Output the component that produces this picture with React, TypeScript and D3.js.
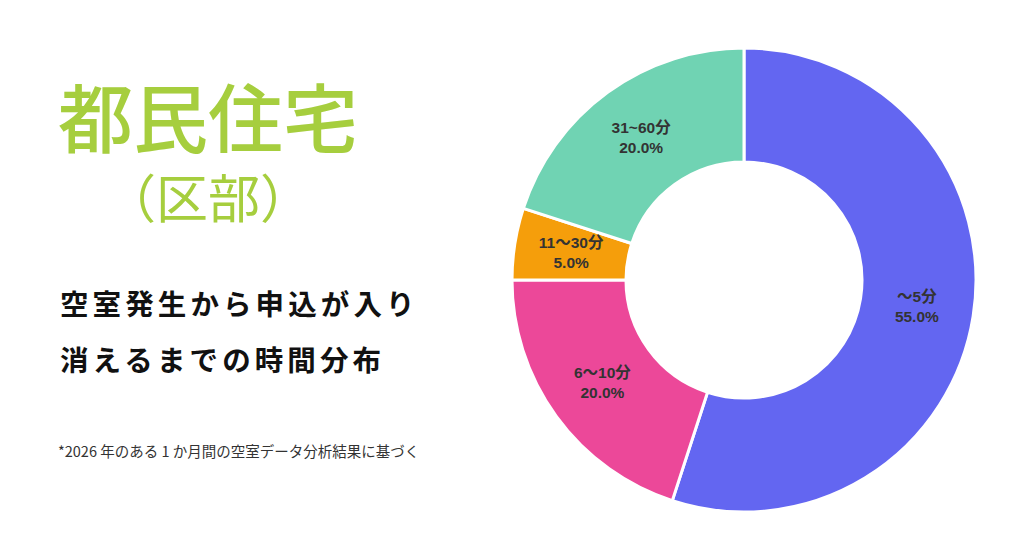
import { useEffect, useRef } from 'react'
import * as d3 from 'd3'

// slice labels, in clockwise order from 12 o'clock
const categories = ['〜5分', '6〜10分', '11〜30分', '31~60分']
const shares = [55, 20, 5, 20]
const sliceColors = ['#6366F1', '#EC4899', '#F59E0B', '#70D3B3']

const titleLines = ['都民住宅', '（区部）']
const subtitleLines = ['空室発生から申込が入り', '消えるまでの時間分布']
const footnote = '*2026 年のある 1 か月間の空室データ分析結果に基づく'

const WIDTH = 1024
const HEIGHT = 538
const JP = '"Noto Sans CJK JP", "Noto Sans", sans-serif'
const LABEL_FONT = '"Liberation Sans", Arial, "Noto Sans CJK JP", sans-serif'

export default function App() {
  const svgRef = useRef<SVGSVGElement>(null)

  useEffect(() => {
    if (!svgRef.current) return
    const svg = d3.select(svgRef.current)
    svg.selectAll('*').remove()

    svg.append('rect').attr('width', WIDTH).attr('height', HEIGHT).attr('fill', '#fff')

    // title: one text element, two tspans
    const title = svg
      .append('text')
      .attr('font-family', JP)
      .attr('fill', '#A6CE3E')
    title
      .append('tspan')
      .attr('x', 58)
      .attr('y', 147)
      .attr('font-size', 75)
      .attr('font-weight', 500)
      .text(titleLines[0])
    title
      .append('tspan')
      .attr('x', 104)
      .attr('y', 218)
      .attr('font-size', 52)
      .attr('font-weight', 400)
      .text(titleLines[1])

    subtitleLines.forEach((line, i) => {
      svg
        .append('text')
        .attr('x', 60)
        .attr('y', 315 + i * 56)
        .attr('font-family', JP)
        .attr('font-size', 28.5)
        .attr('font-weight', 700)
        .attr('letter-spacing', 4.1)
        .attr('fill', '#111')
        .text(line)
    })

    svg
      .append('text')
      .attr('x', 58)
      .attr('y', 457)
      .attr('font-family', JP)
      .attr('font-size', 14.5)
      .attr('fill', '#333')
      .text(footnote)

    // donut
    const cx = 744
    const cy = 280
    const outer = 232
    const inner = 118

    const data = categories.map((c, i) => ({ label: c, value: shares[i], color: sliceColors[i] }))

    const pie = d3
      .pie<(typeof data)[number]>()
      .value((d) => d.value)
      .sort(null)

    const arc = d3
      .arc<d3.PieArcDatum<(typeof data)[number]>>()
      .innerRadius(inner)
      .outerRadius(outer)

    const g = svg.append('g').attr('transform', `translate(${cx},${cy})`)
    const arcs = pie(data)

    g.selectAll('path')
      .data(arcs)
      .enter()
      .append('path')
      .attr('d', arc)
      .attr('fill', (d) => d.data.color)
      .attr('stroke', '#fff')
      .attr('stroke-width', 3)

    const totals = d3.sum(shares)
    const labels = g
      .selectAll('g.lbl')
      .data(arcs)
      .enter()
      .append('g')
      .attr('class', 'lbl')
      .attr('transform', (d) => `translate(${arc.centroid(d)})`)
      .attr('font-family', LABEL_FONT)
      .attr('font-size', 15.5)
      .attr('font-weight', 700)
      .attr('fill', '#333')
      .attr('text-anchor', 'middle')

    labels
      .append('text')
      .attr('y', -5)
      .text((d) => d.data.label)
    labels
      .append('text')
      .attr('y', 15)
      .text((d) => `${((d.data.value / totals) * 100).toFixed(1)}%`)
  }, [])

  return (
    <svg
      ref={svgRef}
      width={WIDTH}
      height={HEIGHT}
      style={{ position: 'absolute', left: 0, top: 0, display: 'block' }}
    />
  )
}
